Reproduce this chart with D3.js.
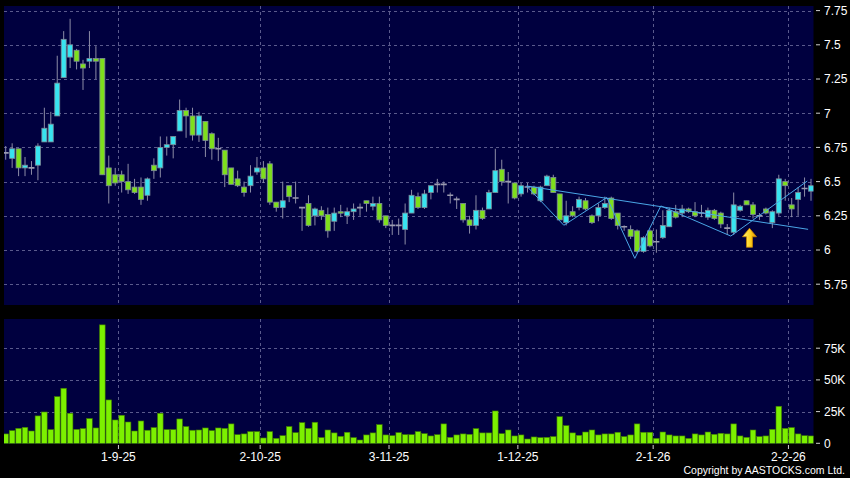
<!DOCTYPE html>
<html><head><meta charset="utf-8">
<script src="https://cdn.jsdelivr.net/npm/d3@7"></script>
<style>html,body{margin:0;padding:0;background:#000;} svg{display:block;}</style>
</head><body>
<svg id="chart" width="850" height="478"></svg>
<script>
// ---------- DATA ----------
const opens = [6.71,6.67,6.74,6.60,6.60,6.62,6.79,6.79,6.98,7.26,
 7.41,7.46,7.36,7.38,7.40,7.40,6.60,6.55,6.55,6.50,
 6.46,6.46,6.40,6.62,6.60,6.75,6.77,6.87,7.02,6.98,
 6.84,6.94,6.85,6.74,6.73,6.60,6.52,6.46,6.47,6.57,
 6.60,6.63,6.35,6.31,6.47,6.38,6.31,6.34,6.25,6.29,
 6.26,6.21,6.28,6.25,6.28,6.31,6.36,6.32,6.34,6.25,
 6.18,6.18,6.15,6.27,6.39,6.31,6.42,6.48,6.48,6.40,
 6.37,6.34,6.22,6.18,6.29,6.30,6.42,6.59,6.50,6.49,
 6.41,6.46,6.46,6.36,6.47,6.53,6.41,6.20,6.28,6.31,
 6.36,6.25,6.25,6.31,6.38,6.27,6.17,6.15,6.14,5.99,
 6.14,6.06,6.09,6.17,6.28,6.27,6.30,6.28,6.27,6.24,
 6.29,6.27,6.16,6.13,6.29,6.36,6.33,6.25,6.30,6.20,
 6.27,6.50,6.33,6.37,6.45,6.43];
const highs = [6.76,6.78,6.74,6.68,6.65,6.78,7.04,7.01,7.42,7.60,
 7.69,7.47,7.39,7.60,7.49,7.40,6.69,6.60,6.58,6.63,
 6.52,6.53,6.53,6.67,6.83,6.83,6.83,7.10,7.04,7.04,
 7.01,6.94,6.86,6.82,6.73,6.60,6.58,6.50,6.62,6.68,
 6.65,6.65,6.35,6.50,6.47,6.50,6.31,6.40,6.31,6.32,
 6.31,6.31,6.33,6.31,6.34,6.34,6.36,6.39,6.39,6.25,
 6.22,6.23,6.34,6.44,6.42,6.44,6.47,6.52,6.50,6.42,
 6.39,6.34,6.25,6.40,6.31,6.44,6.74,6.66,6.57,6.49,
 6.49,6.49,6.47,6.47,6.55,6.55,6.41,6.36,6.32,6.39,
 6.38,6.26,6.34,6.39,6.39,6.27,6.18,6.18,6.15,6.10,
 6.15,6.15,6.29,6.31,6.33,6.33,6.31,6.35,6.33,6.31,
 6.30,6.28,6.19,6.42,6.33,6.36,6.35,6.27,6.31,6.29,
 6.55,6.52,6.38,6.46,6.53,6.52];
const lows = [6.66,6.60,6.54,6.54,6.55,6.51,6.79,6.79,6.98,7.26,
 7.33,7.32,7.17,7.33,7.25,6.55,6.34,6.47,6.42,6.41,
 6.41,6.33,6.36,6.52,6.53,6.69,6.67,6.87,6.82,6.80,
 6.79,6.68,6.66,6.65,6.46,6.48,6.46,6.39,6.42,6.55,
 6.49,6.33,6.28,6.23,6.35,6.34,6.14,6.17,6.18,6.22,
 6.09,6.14,6.24,6.19,6.22,6.25,6.28,6.29,6.20,6.16,
 6.11,6.11,6.04,6.27,6.30,6.30,6.37,6.42,6.42,6.34,
 6.30,6.20,6.12,6.15,6.22,6.30,6.42,6.47,6.34,6.37,
 6.39,6.42,6.40,6.35,6.47,6.42,6.22,6.18,6.24,6.29,
 6.29,6.19,6.21,6.30,6.22,6.15,6.14,6.08,5.98,5.98,
 6.02,5.98,6.08,6.17,6.23,6.24,6.27,6.24,6.24,6.22,
 6.22,6.16,6.11,6.11,6.28,6.33,6.23,6.22,6.26,6.16,
 6.25,6.36,6.24,6.25,6.39,6.36];
const closes = [6.71,6.74,6.60,6.62,6.60,6.76,6.89,6.92,7.22,7.54,
 7.50,7.38,7.33,7.40,7.38,6.55,6.47,6.49,6.50,6.44,
 6.42,6.37,6.52,6.58,6.75,6.77,6.83,7.02,6.98,6.84,
 6.98,6.80,6.74,6.74,6.55,6.48,6.47,6.42,6.54,6.60,
 6.52,6.35,6.31,6.36,6.39,6.38,6.31,6.18,6.30,6.25,
 6.14,6.27,6.27,6.28,6.30,6.31,6.34,6.34,6.22,6.18,
 6.18,6.18,6.27,6.40,6.31,6.41,6.47,6.48,6.48,6.40,
 6.37,6.22,6.18,6.29,6.23,6.42,6.58,6.50,6.50,6.38,
 6.47,6.46,6.41,6.46,6.54,6.42,6.22,6.25,6.25,6.37,
 6.30,6.20,6.31,6.34,6.23,6.18,6.17,6.10,5.99,6.09,
 6.03,6.06,6.18,6.29,6.24,6.30,6.28,6.25,6.27,6.29,
 6.23,6.19,6.16,6.33,6.32,6.33,6.26,6.25,6.27,6.28,
 6.52,6.47,6.30,6.42,6.45,6.47];
// volume in thousands of shares
const volumesK = [7.4,10,11.8,12.6,9.7,21.6,24.7,10.8,36.8,43.4,
 23.7,11,11.6,19.5,12.1,93.4,34.2,18.4,22.1,16.8,
 9.7,17.6,10.3,12.4,23.7,10.8,10.8,19.2,13.2,10.3,
 10.5,12.1,10,12.1,11.8,15.3,6.8,7.4,9.2,9.2,
 4.2,9.2,3.9,6,13.2,8.4,16.3,11.8,16.6,4.5,
 10.5,8.2,5.5,8.7,4.5,2.6,6.6,8.2,14.7,6.6,
 6,8.4,6.8,6.8,9.2,7.6,5.8,6.8,15.3,4.7,
 6.6,7.4,7.1,11.6,8.2,8.2,25.5,7.6,10.5,5.8,
 6.6,3.4,5,4.5,4.7,5.3,21,13.9,8.2,6.3,
 8.9,10.5,6.6,7.4,7.4,8.7,5.3,6.6,15.3,8.7,
 8.7,3.9,8.9,6.6,5.8,5.8,3.9,7.4,6.6,8.9,
 7.1,7.9,7.4,15.3,5.8,4.7,10.5,5.3,5.8,11,
 29.2,11.8,12.4,7.4,6,5.8];
const priceTicks = [5.75,6,6.25,6.5,6.75,7,7.25,7.5,7.75];
const priceTickLabels = ["5.75","6","6.25","6.5","6.75","7","7.25","7.5","7.75"];
const volTicks = [0,25,50,75];
const volTickLabels = ["0","25K","50K","75K"];
const dateTickIndex = [18,40,60,80,101,122];
const dateTickLabels = ["1-9-25","2-10-25","3-11-25","1-12-25","2-1-26","2-2-26"];
// pattern lines drawn on the chart (index, price)
const patternIdx = [80.85,86.63,93.31,97.65,101.69,112.55,124.42];
const patternPrice = [6.468,6.181,6.384,5.939,6.322,6.102,6.504];
const necklineIdx = [80.85,124.55];
const necklinePrice = [6.468,6.151];
const arrowIdx = 115.45, arrowPrice = 6.159;
const copyright = "Copyright by AASTOCKS.com Ltd.";

// ---------- LAYOUT ----------
const svg = d3.select("#chart");
const W = 850, H = 478;
const L = 4, R = 813.5;
const pTop = 6, pBot = 305, vTop = 319, vBot = 444;
const N = closes.length;
const x = d3.scaleLinear().domain([0, N - 1]).range([5.7, 811]);
const step = x(1) - x(0);
const y = d3.scaleLinear().domain([5.75, 7.75]).range([284.2, 10.6]);
const yv = d3.scaleLinear().domain([0, 75]).range([443.3, 348.2]);

const NAVY = "#00003f", GRID = "#5a5a8c", CYAN = "#38e4f0", GREEN = "#7edf1c";
const TXT = "#ffffff", FONT = "'Liberation Sans', Arial, sans-serif";

svg.append("rect").attr("width", W).attr("height", H).attr("fill", "#000");
const defs = svg.append("defs");
defs.append("clipPath").attr("id", "cp").append("rect")
  .attr("x", L).attr("y", pTop).attr("width", R - L).attr("height", pBot - pTop);
defs.append("clipPath").attr("id", "cv").append("rect")
  .attr("x", L).attr("y", vTop).attr("width", R - L).attr("height", vBot - vTop);
const grad = defs.append("linearGradient").attr("id", "ag").attr("x1", "0").attr("x2", "1").attr("y1", "0").attr("y2", "0");
grad.append("stop").attr("offset", "0").attr("stop-color", "#fff27a");
grad.append("stop").attr("offset", "0.55").attr("stop-color", "#ffd21e");
grad.append("stop").attr("offset", "1").attr("stop-color", "#d88a00");

svg.append("rect").attr("x", L).attr("y", pTop).attr("width", R - L).attr("height", pBot - pTop).attr("fill", NAVY);
svg.append("rect").attr("x", L).attr("y", vTop).attr("width", R - L).attr("height", vBot - vTop).attr("fill", NAVY);

const gx = i => x(i) - step / 2;

// grids
const gp = svg.append("g").attr("clip-path", "url(#cp)");
gp.selectAll("line.h").data(priceTicks).enter().append("line")
  .attr("x1", L).attr("x2", R).attr("y1", d => Math.round(y(d)) + 0.5).attr("y2", d => Math.round(y(d)) + 0.5)
  .attr("stroke", GRID).attr("stroke-dasharray", "3,3");
gp.selectAll("line.v").data(dateTickIndex).enter().append("line")
  .attr("x1", d => Math.round(gx(d)) + 0.5).attr("x2", d => Math.round(gx(d)) + 0.5).attr("y1", pTop).attr("y2", pBot)
  .attr("stroke", GRID).attr("stroke-dasharray", "3,3");
const gv = svg.append("g").attr("clip-path", "url(#cv)");
gv.selectAll("line.h").data(volTicks.slice(1)).enter().append("line")
  .attr("x1", L).attr("x2", R).attr("y1", d => Math.round(yv(d)) + 0.5).attr("y2", d => Math.round(yv(d)) + 0.5)
  .attr("stroke", GRID).attr("stroke-dasharray", "3,3");
gv.selectAll("line.v").data(dateTickIndex).enter().append("line")
  .attr("x1", d => Math.round(gx(d)) + 0.5).attr("x2", d => Math.round(gx(d)) + 0.5).attr("y1", vTop).attr("y2", vBot)
  .attr("stroke", GRID).attr("stroke-dasharray", "3,3");

// candles
const idx = d3.range(N);
const cg = gp.append("g");
cg.selectAll("line.w").data(idx).enter().append("line")
  .attr("x1", i => x(i)).attr("x2", i => x(i))
  .attr("y1", i => y(highs[i])).attr("y2", i => y(lows[i]))
  .attr("stroke", "#8c8ca6").attr("stroke-width", 1);
const bw = 5;
cg.selectAll("rect.b").data(idx.filter(i => opens[i] !== closes[i])).enter().append("rect")
  .attr("x", i => x(i) - bw / 2)
  .attr("y", i => y(Math.max(opens[i], closes[i])))
  .attr("width", bw)
  .attr("height", i => Math.max(1.5, Math.abs(y(opens[i]) - y(closes[i]))))
  .attr("fill", i => closes[i] > opens[i] ? CYAN : GREEN)
  .attr("stroke", "#7c8a98").attr("stroke-width", 0.8);
cg.selectAll("line.d").data(idx.filter(i => opens[i] === closes[i])).enter().append("line")
  .attr("x1", i => x(i) - 3).attr("x2", i => x(i) + 3)
  .attr("y1", i => y(closes[i])).attr("y2", i => y(closes[i]))
  .attr("stroke", "#9a9ab0").attr("stroke-width", 1.6);

// pattern lines
const line = d3.line().x(d => x(d[0])).y(d => y(d[1]));
gp.append("path").attr("d", line(patternIdx.map((d, k) => [d, patternPrice[k]])))
  .attr("fill", "none").attr("stroke", "#4aa6e6").attr("stroke-width", 1);
gp.append("path").attr("d", line(necklineIdx.map((d, k) => [d, necklinePrice[k]])))
  .attr("fill", "none").attr("stroke", "#4aa6e6").attr("stroke-width", 1);

// arrow
svg.append("path")
  .attr("transform", `translate(${x(arrowIdx)},${y(arrowPrice)})`)
  .attr("d", "M0,0 L7,8.5 L3,8.5 L3,19 L-3,19 L-3,8.5 L-7,8.5 Z")
  .attr("fill", "url(#ag)").attr("stroke", "#c88400").attr("stroke-width", 0.8);

// volume bars
gv.selectAll("rect.v").data(idx).enter().append("rect")
  .attr("x", i => x(i) - 2.8).attr("width", 5.6)
  .attr("y", i => yv(volumesK[i])).attr("height", i => yv(0) - yv(volumesK[i]))
  .attr("fill", "#7cf000").attr("stroke", "#3f7a00").attr("stroke-width", 0.6);

// right axes
const ra = svg.append("g");
ra.selectAll("line.pt").data(priceTicks).enter().append("line")
  .attr("x1", 816).attr("x2", 820).attr("y1", d => y(d)).attr("y2", d => y(d))
  .attr("stroke", "#cfcfcf");
ra.selectAll("text.pt").data(priceTicks).enter().append("text")
  .attr("x", 824).attr("y", d => y(d)).attr("dy", "0.36em")
  .attr("fill", TXT).attr("font-family", FONT).attr("font-size", 12)
  .text((d, k) => priceTickLabels[k]);
ra.selectAll("line.vt").data(volTicks).enter().append("line")
  .attr("x1", 816).attr("x2", 820).attr("y1", d => yv(d)).attr("y2", d => yv(d))
  .attr("stroke", "#cfcfcf");
ra.selectAll("text.vt").data(volTicks).enter().append("text")
  .attr("x", 824).attr("y", d => yv(d)).attr("dy", "0.36em")
  .attr("fill", TXT).attr("font-family", FONT).attr("font-size", 12)
  .text((d, k) => volTickLabels[k]);

// date axis
const da = svg.append("g");
da.selectAll("line").data(dateTickIndex).enter().append("line")
  .attr("x1", d => gx(d)).attr("x2", d => gx(d)).attr("y1", 445).attr("y2", 449)
  .attr("stroke", "#cfcfcf");
da.selectAll("text").data(dateTickIndex).enter().append("text")
  .attr("x", d => gx(d)).attr("y", 461).attr("text-anchor", "middle")
  .attr("fill", TXT).attr("font-family", FONT).attr("font-size", 12)
  .text((d, k) => dateTickLabels[k]);

svg.append("text").attr("x", 845).attr("y", 474).attr("text-anchor", "end")
  .attr("fill", TXT).attr("font-family", FONT).attr("font-size", 10.5)
  .text(copyright);
</script>
</body></html>
